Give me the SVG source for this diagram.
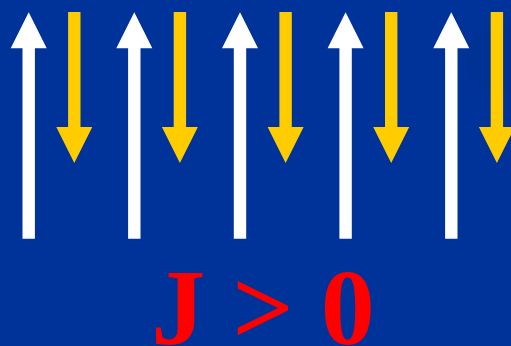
<svg xmlns="http://www.w3.org/2000/svg" width="511" height="346" viewBox="0 0 511 346">
<style>
.up{fill:#ffffff}
.dn{fill:#ffcc00}
.lbl{font-family:"Liberation Serif",serif;font-weight:bold;font-size:108px;fill:#ff0000}
</style>
<defs>
<path id="upA" d="M0,0 L18,36 L6.2,36 L6.2,226.5 L-6.2,226.5 L-6.2,36 L-18,36 Z"/>
<path id="dnA" d="M-6.2,0 L6.2,0 L6.2,115 L18,115 L0,151 L-18,115 L-6.2,115 Z"/>
</defs>
<rect width="511" height="346" fill="#003399"/>
<ellipse cx="500" cy="60" rx="34" ry="34" fill="#003291" opacity="0.7"/>
<g id="connectors">
<g id="spin1"><use href="#upA" class="up" x="28.7" y="12.2"/><use href="#dnA" class="dn" x="74.3" y="12"/></g>
<g id="spin2"><use href="#upA" class="up" x="134.3" y="12.2"/><use href="#dnA" class="dn" x="179.9" y="12"/></g>
<g id="spin3"><use href="#upA" class="up" x="240" y="12.2"/><use href="#dnA" class="dn" x="285.6" y="12"/></g>
<g id="spin4"><use href="#upA" class="up" x="345.6" y="12.2"/><use href="#dnA" class="dn" x="391.2" y="12"/></g>
<g id="spin5"><use href="#upA" class="up" x="451.3" y="12.2"/><use href="#dnA" class="dn" x="496.9" y="12"/></g>
</g>
<g id="label"><text class="lbl" x="263" y="344" text-anchor="middle">J &gt; 0</text></g>
</svg>
